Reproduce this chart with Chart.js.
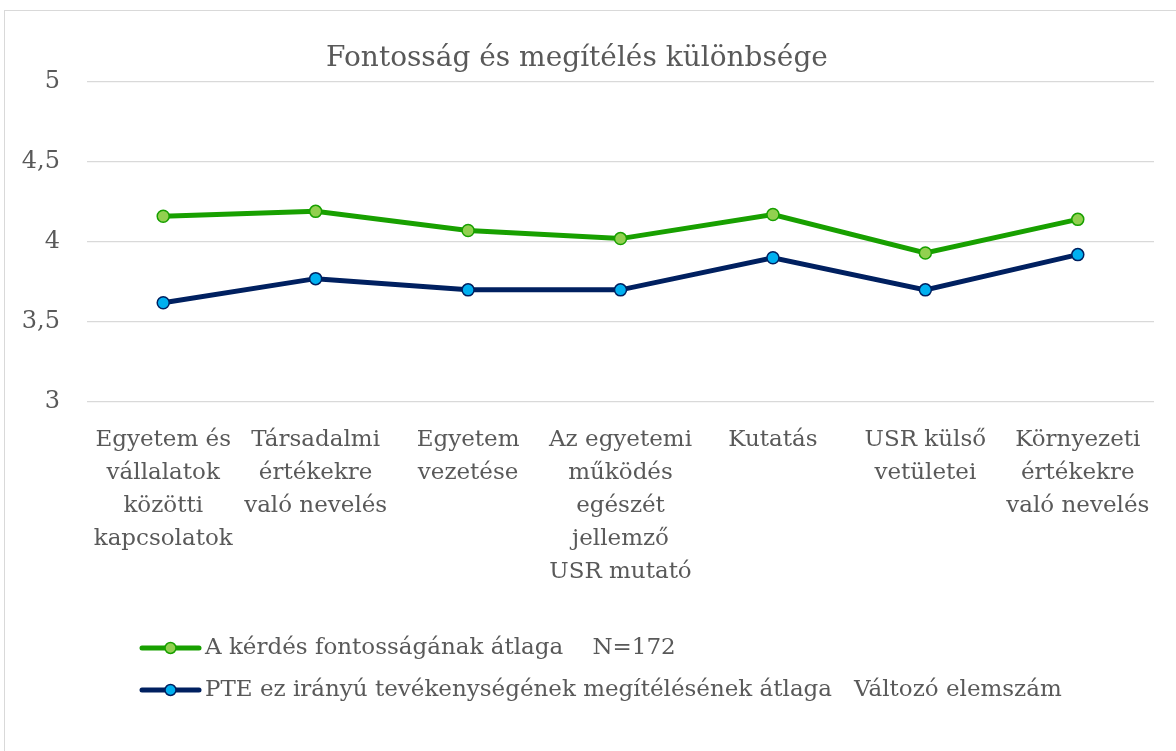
<!DOCTYPE html>
<html>
<head>
<meta charset="utf-8">
<script src="https://cdn.jsdelivr.net/npm/chart.js@4.4.1/dist/chart.umd.min.js"></script>
<style>
  html, body { margin: 0; padding: 0; background: #fff; }
  #wrap { width: 1176px; height: 751px; position: relative; }
</style>
</head>
<body>
<div id="wrap"><canvas id="chart" width="1176" height="751"></canvas></div>
<script>
// Fontosság és megítélés különbsége

const categories = [
    ['Egyetem és', 'vállalatok', 'közötti', 'kapcsolatok'],
    ['Társadalmi', 'értékekre', 'való nevelés'],
    ['Egyetem', 'vezetése'],
    ['Az egyetemi', 'működés', 'egészét', 'jellemző', 'USR mutató'],
    ['Kutatás'],
    ['USR külső', 'vetületei'],
    ['Környezeti', 'értékekre', 'való nevelés']
];

const fontossag = [4.16, 4.19, 4.07, 4.02, 4.17, 3.93, 4.14];
const megiteles = [3.62, 3.77, 3.70, 3.70, 3.90, 3.70, 3.92];

const seriesNames = [
    'A kérdés fontosságának átlaga    N=172',
    'PTE ez irányú tevékenységének megítélésének átlaga   Változó elemszám'
];

const yTicks = [3, 3.5, 4, 4.5, 5];

const TEXT = '#595959';
const FONT = '"DejaVu Serif", serif';

// frame around the chart + legend drawn by hand (line with a marker in it)
const frameAndLegend = {
    id: 'frameAndLegend',
    beforeDraw(chart) {
        const ctx = chart.ctx;
        ctx.save();
        ctx.strokeStyle = '#d9d9d9';
        ctx.lineWidth = 1;
        ctx.strokeRect(4.5, 10.5, 1200, 800);
        ctx.restore();
    },
    afterDraw(chart) {
        const ctx = chart.ctx;
        const rows = [648, 690];
        ctx.save();
        chart.data.datasets.forEach((ds, i) => {
            const y = rows[i];
            ctx.strokeStyle = ds.borderColor;
            ctx.lineWidth = 5;
            ctx.lineCap = 'round';
            ctx.beginPath();
            ctx.moveTo(142, y);
            ctx.lineTo(199, y);
            ctx.stroke();
            ctx.beginPath();
            ctx.arc(170.5, y, 5.5, 0, Math.PI * 2);
            ctx.fillStyle = ds.pointBackgroundColor;
            ctx.fill();
            ctx.lineWidth = 1.5;
            ctx.strokeStyle = ds.pointBorderColor;
            ctx.stroke();
            ctx.fillStyle = TEXT;
            ctx.font = '23px ' + FONT;
            ctx.textBaseline = 'middle';
            ctx.textAlign = 'left';
            ctx.fillText(ds.label, 205, y);
        });
        ctx.restore();
    }
};

new Chart(document.getElementById('chart'), {
    type: 'line',
    data: {
        labels: categories,
        datasets: [{
            label: seriesNames[0],
            data: fontossag,
            borderColor: '#18a000',
            borderWidth: 5,
            pointBackgroundColor: '#92d050',
            pointBorderColor: '#18a000',
            pointBorderWidth: 1.5,
            pointRadius: 6,
            tension: 0
        }, {
            label: seriesNames[1],
            data: megiteles,
            borderColor: '#002060',
            borderWidth: 5,
            pointBackgroundColor: '#00b0f0',
            pointBorderColor: '#002060',
            pointBorderWidth: 1.5,
            pointRadius: 6,
            tension: 0
        }]
    },
    options: {
        responsive: false,
        animation: false,
        layout: { padding: { top: 20, left: 0, right: 22, bottom: 0 } },
        plugins: {
            legend: { display: false },
            tooltip: { enabled: false },
            title: {
                display: true,
                text: 'Fontosság és megítélés különbsége',
                color: TEXT,
                font: { family: FONT, size: 28, weight: 'normal' },
                padding: { top: 22, bottom: 6 }
            }
        },
        scales: {
            x: {
                offset: true,
                grid: { display: false, offset: true },
                border: { display: false },
                ticks: {
                    color: TEXT,
                    font: { family: FONT, size: 23, lineHeight: 1.43 },
                    autoSkip: false,
                    maxRotation: 0,
                    minRotation: 0,
                    padding: 14
                },
                afterFit(scale) { scale.height = 349; }
            },
            y: {
                min: 3,
                max: 5,
                afterBuildTicks(scale) {
                    scale.ticks = yTicks.map(v => ({ value: v }));
                },
                grid: { color: '#d9d9d9', lineWidth: 1.3, drawTicks: false },
                border: { display: false },
                ticks: {
                    color: TEXT,
                    font: { family: FONT, size: 24 },
                    padding: 27,
                    callback: v => String(v).replace('.', ',')
                },
                afterFit(scale) { scale.width = 87; }
            }
        }
    },
    plugins: [frameAndLegend]
});
</script>
</body>
</html>
